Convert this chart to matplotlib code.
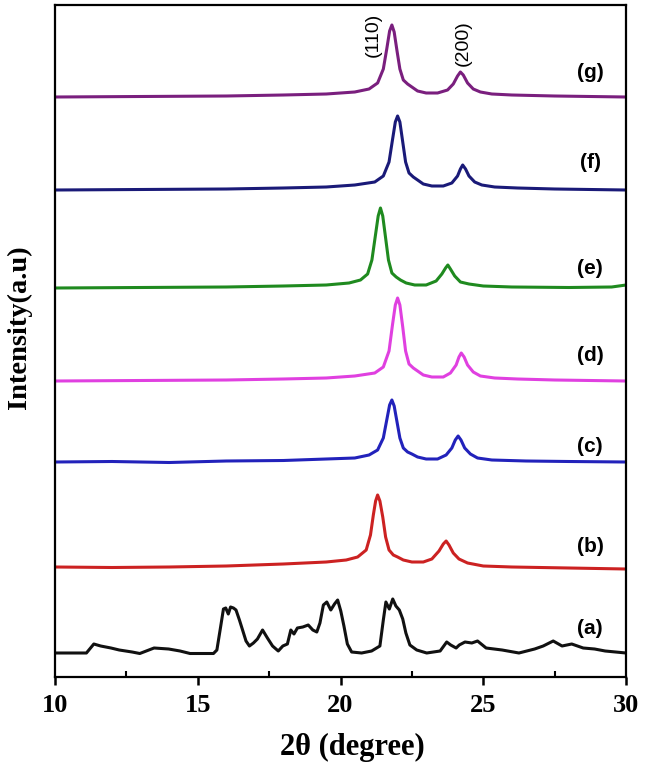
import matplotlib
matplotlib.use('agg')
import matplotlib.pyplot as plt
from matplotlib.ticker import MultipleLocator

# XRD patterns, intensity (a.u., above each baseline)
a_x = [10, 11.1, 11.36, 11.6, 11.96, 12.25, 12.7, 12.97, 13.47, 13.98, 14.38, 14.73, 15.55, 15.67,
       15.8, 15.9, 15.98, 16.07, 16.15, 16.25, 16.34, 16.46, 16.57, 16.69, 16.81, 16.95, 17.09,
       17.27, 17.44, 17.62, 17.82, 17.98, 18.14, 18.26, 18.37, 18.49, 18.68, 18.87, 19.03, 19.17,
       19.28, 19.4, 19.52, 19.66, 19.79, 19.9, 20.01, 20.12, 20.24, 20.39, 20.74, 21.09, 21.38,
       21.5, 21.59, 21.71, 21.83, 21.94, 22.06, 22.18, 22.29, 22.43, 22.67, 23.02, 23.49, 23.72,
       23.86, 24.05, 24.16, 24.36, 24.6, 24.8, 25.1, 25.66, 26.25, 26.8, 27.1, 27.45, 27.76, 28.1,
       28.5, 28.9, 29.27, 30]
a_I = [0, 0, 9, 7, 5, 3, 1, -0.5, 5, 4, 2, -0.5, -0.5, 3,
       26, 44, 45, 39, 46, 45, 43, 33, 23, 12, 7, 10, 14,
       23, 15, 7, 2, 7, 9, 23, 19, 25, 26, 28, 23, 21,
       30, 48, 51, 43, 49, 53, 42, 27, 9, 1, 0, 2, 7,
       33, 51, 44, 54, 47, 43, 34, 20, 8, 3, 0, 2, 11,
       8, 5, 8, 11, 10, 12, 5, 3, 0, 4, 7, 12, 7, 9,
       5, 4, 2, 0]

b_x = [10, 12, 14, 16, 18, 19.5, 20.2, 20.6, 20.9, 21.05, 21.15, 21.23, 21.3, 21.38, 21.48, 21.58,
       21.7, 21.85, 22.0, 22.2, 22.5, 22.9, 23.2, 23.45, 23.6, 23.7, 23.8, 23.95, 24.15, 24.45,
       25.0, 26.0, 28.0, 30]
b_I = [0, -0.5, 0, 1, 3, 5, 7, 10, 17, 32, 52, 66, 72, 66, 50, 30,
       17, 12, 10, 7, 5, 5, 8, 16, 23, 26, 22, 14, 8, 4,
       1, 0, -1, -2]

c_x = [10, 12, 14, 16, 18, 19.5, 20.5, 21.0, 21.3, 21.5, 21.62, 21.72, 21.8, 21.88, 21.98, 22.08,
       22.2, 22.35, 22.5, 22.7, 23.0, 23.4, 23.7, 23.9, 24.02, 24.12, 24.22, 24.35, 24.55, 24.8,
       25.3, 26.5, 28, 30]
c_I = [0, 0.5, -0.5, 1, 1.5, 3, 4, 7, 12, 24, 42, 57, 62, 56, 40, 24,
       14, 10, 8, 5, 3, 3, 7, 14, 22, 26, 22, 14, 8, 4,
       2, 1, 0.5, 0]

d_x = [10, 13, 16, 18, 19.5, 20.5, 21.2, 21.5, 21.7, 21.82, 21.92, 22.0, 22.08, 22.18, 22.28, 22.4,
       22.55, 22.7, 22.9, 23.2, 23.6, 23.85, 24.05, 24.15, 24.23, 24.33, 24.45, 24.65, 24.9,
       25.4, 26.2, 27.5, 30]
d_I = [0, 0.5, 1, 2, 3, 5, 8, 14, 30, 56, 76, 83, 76, 54, 30, 17,
       13, 10, 6, 4, 4, 8, 16, 24, 28, 24, 16, 9, 5,
       3, 2, 1, 0]

e_x = [10, 13, 16, 18, 19.5, 20.3, 20.7, 20.95, 21.1, 21.22, 21.32, 21.4, 21.48, 21.58, 21.68,
       21.8, 21.95, 22.1, 22.3, 22.6, 23.0, 23.35, 23.55, 23.68, 23.76, 23.85, 24.0, 24.2, 24.5,
       25.0, 26.0, 28, 29.5, 30]
e_I = [0, 0.5, 1, 2, 3, 5, 8, 14, 28, 52, 72, 80, 72, 50, 28,
       15, 11, 8, 5, 3, 3, 7, 14, 20, 23, 19, 12, 6, 4,
       2, 1, 0.5, 1, 3]

f_x = [10, 13, 16, 18, 19.5, 20.5, 21.2, 21.5, 21.7, 21.82, 21.92, 22.0, 22.08, 22.18, 22.28, 22.4,
       22.55, 22.7, 22.9, 23.2, 23.6, 23.9, 24.1, 24.2, 24.28, 24.38, 24.5, 24.7, 24.95,
       25.4, 26.2, 27.5, 30]
f_I = [0, 0.5, 1, 2, 3, 5, 8, 14, 28, 50, 68, 74, 68, 48, 28, 17,
       13, 10, 6, 4, 4, 7, 14, 21, 25, 21, 14, 8, 5,
       3, 2, 1, 0]

g_x = [10, 13, 16, 18, 19.5, 20.5, 21.0, 21.3, 21.5, 21.62, 21.72, 21.8, 21.88, 21.98, 22.08, 22.2,
       22.35, 22.5, 22.7, 23.0, 23.4, 23.75, 23.95, 24.1, 24.2, 24.3, 24.45, 24.65, 24.9,
       25.3, 26.0, 27.5, 30]
g_I = [0, 0.5, 1, 2, 3, 5, 8, 14, 28, 48, 66, 72, 65, 46, 28, 17,
       13, 10, 6, 4, 4, 7, 13, 21, 25, 22, 14, 8, 5,
       3, 2, 1, 0]

labels = ['(a)', '(b)', '(c)', '(d)', '(e)', '(f)', '(g)']
offsets = [24, 110, 215, 296, 389, 487, 580]
label_y = [49, 130, 231, 322, 409, 515, 604]
colors = ['#111111', '#cc2222', '#2222bb', '#e040e0', '#1f8a1f', '#1a1a78', '#7a1f7e']
planes = ['(110)', '(200)']
plane_x = [21.15, 24.3]
plane_y = [642, 634]

xs = [a_x, b_x, c_x, d_x, e_x, f_x, g_x]
ys = [a_I, b_I, c_I, d_I, e_I, f_I, g_I]

serif = 'Liberation Serif'
sans = 'Liberation Sans'

fig = plt.figure(figsize=(6.45, 7.62), dpi=100)
ax = fig.add_axes([55 / 645, 1 - 677 / 762, 571 / 645, 672 / 762])

for x, I, off, c in zip(xs, ys, offsets, colors):
    ax.plot(x, [v + off for v in I], color=c, linewidth=2.2)

for lab, ly in zip(labels, label_y):
    ax.text(28.74, ly, lab, fontsize=15, fontweight='bold', family=sans,
            ha='center', va='center')

for p, px, py in zip(planes, plane_x, plane_y):
    ax.text(px, py, p, fontsize=14, family=sans, rotation=90, ha='center', va='center')

ax.set_xlim(10, 30)
ax.set_ylim(0, 672)
ax.set_yticks([])
ax.xaxis.set_major_locator(MultipleLocator(5))
ax.xaxis.set_minor_locator(MultipleLocator(2.5))
ax.tick_params(axis='x', which='major', direction='out', length=6, width=1.8, pad=6)
ax.tick_params(axis='x', which='minor', direction='in', length=4, width=1.5)
for lbl in ax.get_xticklabels():
    lbl.set_family(serif)
    lbl.set_fontweight('bold')
    lbl.set_fontsize(19)
for s in ax.spines.values():
    s.set_linewidth(1.6)

ax.set_xlabel('2θ (degree)', family=serif, fontweight='bold', fontsize=22)
ax.set_ylabel('Intensity(a.u)', family=serif, fontweight='bold', fontsize=20.5)
ax.xaxis.set_label_coords(0.52, -0.083)
ax.yaxis.set_label_coords(-0.040, 0.521)

plt.savefig('out.png', dpi=100)
